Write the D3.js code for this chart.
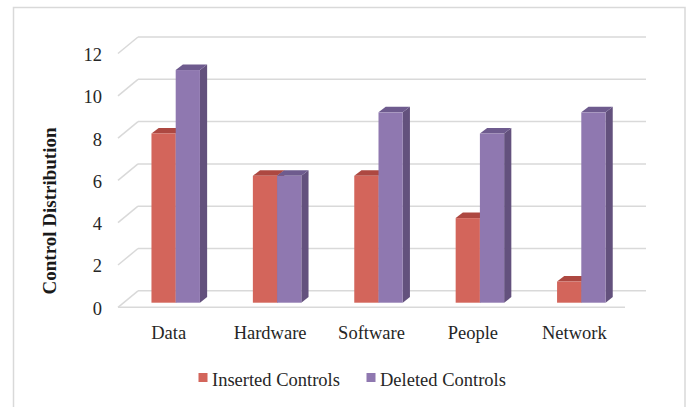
<!DOCTYPE html>
<html><head><meta charset="utf-8">
<script src="https://cdn.jsdelivr.net/npm/d3@7"></script>
<style>html,body{margin:0;padding:0;background:#fff;}svg{display:block;}</style>
</head><body>
<script>
const categories = ["Data", "Hardware", "Software", "People", "Network"];
const seriesNames = ["Inserted Controls", "Deleted Controls"];
const insertedValues = [8, 6, 6, 4, 1];
const deletedValues = [11, 6, 9, 8, 9];
const yTicks = [0, 2, 4, 6, 8, 10, 12];
const yTitle = "Control Distribution";

const W = 691, H = 407;
const svg = d3.select("body").append("svg").attr("width", W).attr("height", H);
const font = "'Liberation Serif','Times New Roman',serif";
const textColor = "#262626";
const gridColor = "#d9d9d9";

// chart frame
svg.append("rect").attr("x", 13.5).attr("y", 7.5).attr("width", 671.5).attr("height", 410)
  .attr("fill", "none").attr("stroke", gridColor).attr("stroke-width", 1.5);

// 3D projection
const depth = {dx: 20, dy: -16.5};     // full floor depth
const x = d3.scaleBand().domain(categories).range([118, 625]).paddingInner(0).paddingOuter(0);
const y = d3.scaleLinear().domain([0, 12]).range([307.3, 53.5]);

// gridlines on back wall + left diagonal
const grid = svg.append("g");
yTicks.forEach(t => {
  const yf = y(t);
  grid.append("line").attr("x1", 118 + depth.dx).attr("x2", 646)
    .attr("y1", yf + depth.dy).attr("y2", yf + depth.dy)
    .attr("stroke", gridColor).attr("stroke-width", 1.5);
  grid.append("line").attr("x1", 118).attr("y1", yf)
    .attr("x2", 118 + depth.dx).attr("y2", yf + depth.dy)
    .attr("stroke", gridColor).attr("stroke-width", 1.5);
});
// floor front edge
grid.append("line").attr("x1", 118).attr("x2", 625).attr("y1", y(0)).attr("y2", y(0))
  .attr("stroke", gridColor).attr("stroke-width", 1.5);

// y tick labels
svg.append("g").selectAll("text").data(yTicks).join("text")
  .attr("x", 102).attr("y", d => y(d) + 1).attr("dy", "0.35em")
  .attr("text-anchor", "end").attr("font-family", font).attr("font-size", 18.5)
  .attr("fill", textColor).text(d => d);

// category labels
svg.append("g").selectAll("text").data(categories).join("text")
  .attr("x", d => x(d) + x.bandwidth() / 2).attr("y", 339)
  .attr("text-anchor", "middle").attr("font-family", font).attr("font-size", 18.5)
  .attr("fill", textColor).text(d => d);

// y title
svg.append("text").attr("transform", "translate(56,211) rotate(-90)")
  .attr("text-anchor", "middle").attr("font-family", font).attr("font-size", 19)
  .attr("font-weight", "bold").attr("fill", "#1a1a1a").text(yTitle);

// bars
const barW = x.bandwidth() * 0.239;
const inner = d3.scaleBand().domain(seriesNames).range([0, barW * 2]);
const front = {dx: 7, dy: -4.6};  // bar front plane offset from floor front
const side = {dx: 7.2, dy: -5.6}; // bar depth
const colors = {
  "Inserted Controls": {front: "#d3655b", top: "#ad4841", side: "#9c3e38"},
  "Deleted Controls": {front: "#8f78b0", top: "#6e5b8e", side: "#63517d"}
};
const y0 = y(0);
const data = [];
categories.forEach((c, i) => {
  data.push({cat: c, s: seriesNames[0], v: insertedValues[i]});
  data.push({cat: c, s: seriesNames[1], v: deletedValues[i]});
});
const barsG = svg.append("g");
data.forEach(d => {
  const groupLeft = x(d.cat) + x.bandwidth() / 2 - barW + front.dx;
  const xl = groupLeft + inner(d.s);
  const xr = xl + inner.bandwidth();
  const yb = y0 + front.dy;
  const yt = y(d.v) + front.dy;
  const col = colors[d.s];
  // side
  barsG.append("path").attr("d", d3.line()([[xr, yb], [xr + side.dx, yb + side.dy], [xr + side.dx, yt + side.dy], [xr, yt]]))
    .attr("fill", col.side);
  // top
  barsG.append("path").attr("d", d3.line()([[xl, yt], [xl + side.dx, yt + side.dy], [xr + side.dx, yt + side.dy], [xr, yt]]))
    .attr("fill", col.top);
  // front
  barsG.append("rect").attr("x", xl).attr("y", yt).attr("width", xr - xl).attr("height", yb - yt)
    .attr("fill", col.front);
});

// legend
const legend = svg.append("g");
const legendX = [198.5, 366.5];
seriesNames.forEach((s, i) => {
  legend.append("rect").attr("x", legendX[i]).attr("y", 373).attr("width", 9).attr("height", 9)
    .attr("fill", colors[s].front);
  legend.append("text").attr("x", legendX[i] + 13.5).attr("y", 386)
    .attr("font-family", font).attr("font-size", 18.5).attr("fill", textColor).text(s);
});
</script>
</body></html>
